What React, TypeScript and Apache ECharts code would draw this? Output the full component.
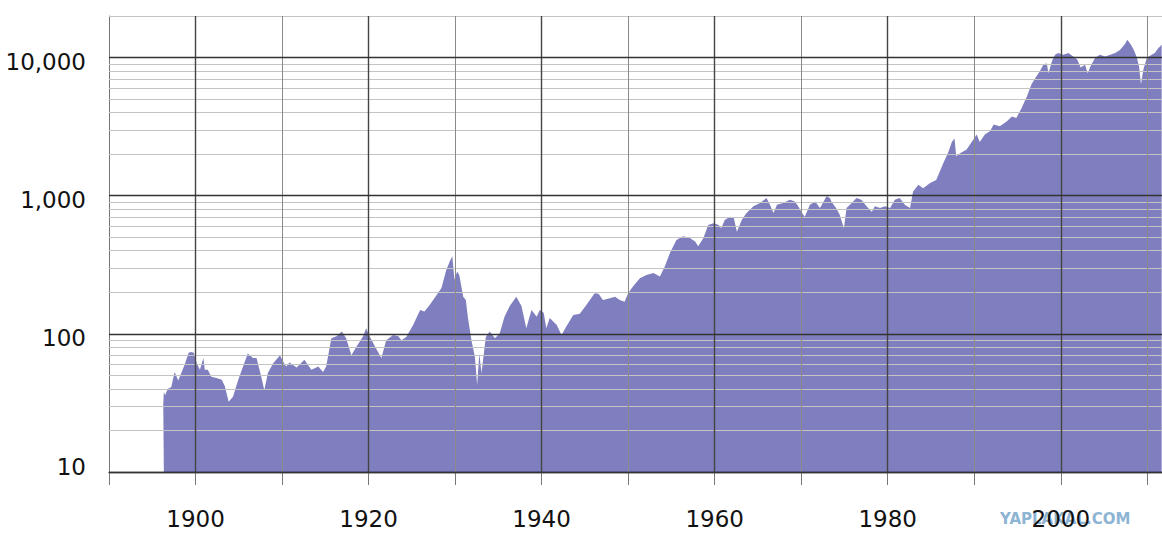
import React, { useEffect, useRef } from "react";
import * as echarts from "echarts";

const years: number[] = [
  1896.27, 1896.34, 1896.49, 1896.79, 1897.19, 1897.59, 1898.0, 1898.4, 1898.75, 1899.2,
  1899.5, 1899.8, 1900.11, 1900.51, 1900.91, 1901.07, 1901.42, 1901.82, 1902.42, 1903.03,
  1903.38, 1903.83, 1904.33, 1904.94, 1905.49, 1906.04, 1906.65, 1907.05, 1907.6, 1907.95,
  1908.36, 1908.96, 1909.76, 1910.12, 1910.47, 1910.87, 1911.68, 1912.58, 1913.39, 1914.19,
  1914.74, 1915.1, 1915.7, 1916.3, 1916.91, 1917.41, 1918.01, 1918.61, 1919.37, 1919.72,
  1920.12, 1920.93, 1921.48, 1922.04, 1922.84, 1923.44, 1923.8, 1924.35, 1925.15, 1925.96,
  1926.46, 1927.06, 1927.87, 1928.42, 1928.98, 1929.38, 1929.68, 1929.93, 1930.23, 1930.48,
  1930.94, 1931.24, 1931.49, 1931.89, 1932.29, 1932.55, 1932.8, 1933.05, 1933.55, 1934.0,
  1934.61, 1935.16, 1935.71, 1936.32, 1937.07, 1937.67, 1938.23, 1938.83, 1939.43, 1939.78,
  1940.24, 1940.54, 1940.94, 1941.75, 1942.3, 1942.85, 1943.66, 1944.41, 1945.17, 1946.13,
  1946.58, 1947.08, 1947.88, 1948.49, 1949.04, 1949.59, 1950.0, 1950.6, 1951.36, 1952.11,
  1952.92, 1953.67, 1954.22, 1954.83, 1955.58, 1956.34, 1957.14, 1957.74, 1958.1, 1958.7,
  1959.25, 1959.86, 1960.46, 1960.76, 1961.16, 1961.77, 1962.22, 1962.57, 1963.13, 1963.68,
  1964.48, 1965.24, 1965.99, 1966.39, 1966.8, 1967.2, 1967.9, 1968.71, 1969.26, 1969.66,
  1970.01, 1970.41, 1971.01, 1971.62, 1972.17, 1972.93, 1973.33, 1973.48, 1974.03, 1974.44,
  1974.94, 1975.24, 1975.64, 1976.4, 1976.95, 1977.55, 1978.16, 1978.51, 1979.11, 1979.67,
  1980.27, 1980.82, 1981.38, 1981.98, 1982.58, 1982.93, 1983.54, 1984.09, 1984.9, 1985.6,
  1986.41, 1987.01, 1987.41, 1987.72, 1987.92, 1988.37, 1989.12, 1989.88, 1990.28, 1990.63,
  1991.23, 1991.84, 1992.24, 1992.95, 1993.75, 1994.35, 1994.86, 1995.46, 1996.07, 1996.62,
  1997.17, 1997.58, 1997.98, 1998.38, 1998.58, 1998.99, 1999.34, 1999.69, 2000.29, 2000.89,
  2001.45, 2001.9, 2002.3, 2002.81, 2003.11, 2003.41, 2003.97, 2004.52, 2005.12, 2005.73,
  2006.28, 2006.84, 2007.44, 2007.69, 2008.04, 2008.45, 2008.8, 2009.05, 2009.27, 2009.55,
  2009.95, 2010.51, 2010.86, 2011.26, 2011.66,
];

const dowValues: number[] = [
  31, 38, 36, 40, 41, 53, 46, 53, 60, 73,
  74, 73, 62, 55, 67, 55, 55, 49, 48, 46.5,
  42, 32.3, 35, 46.5, 58, 72, 67, 67, 49, 39,
  52, 61, 70, 63, 58, 62, 57, 65, 55, 58,
  53, 58, 93, 96, 104, 93, 70, 81, 96, 110,
  96, 77, 67, 90, 98, 96, 90, 95, 116, 149,
  145, 162, 191, 215, 290, 334, 364, 246, 283, 267,
  186, 176, 130, 90, 68, 42.6, 72, 52, 95, 104,
  93, 101, 133, 159, 186, 159, 110, 149, 133, 149,
  142, 110, 130, 116, 98, 113, 137, 140, 162, 197,
  195, 176, 181, 186, 176, 171, 197, 222, 253, 267,
  276, 260, 306, 385, 479, 508, 494, 467, 430, 494,
  615, 632, 615, 582, 667, 705, 686, 549, 667, 750,
  838, 886, 962, 860, 750, 860, 886, 934, 908, 838,
  767, 705, 860, 908, 816, 990, 962, 908, 816, 730,
  582, 816, 860, 962, 934, 838, 767, 838, 816, 838,
  816, 934, 962, 860, 816, 1075, 1200, 1135, 1235, 1300,
  1710, 2070, 2450, 2600, 1930, 2030, 2160, 2540, 2770, 2450,
  2770, 2940, 3280, 3180, 3450, 3740, 3660, 4300, 5200, 6400,
  7300, 7950, 8880, 9100, 7700, 9450, 10490, 10800, 10490, 10800,
  10200, 9700, 8470, 8880, 7700, 8600, 9970, 10490, 10200, 10490,
  10800, 11340, 12600, 13460, 12600, 11340, 9970, 8600, 6400, 8200,
  9970, 10490, 10800, 11700, 12400,
];

const yMajorTicks: number[] = [10, 100, 1000, 10000];
const yMinorTicks: number[] = [
  20, 30, 40, 50, 60, 70, 80, 90,
  200, 300, 400, 500, 600, 700, 800, 900,
  2000, 3000, 4000, 5000, 6000, 7000, 8000, 9000, 20000,
];
const xMajorTicks: number[] = [1900, 1920, 1940, 1960, 1980, 2000];
const xMinorTicks: number[] = [1910, 1930, 1950, 1970, 1990, 2010];

const FONT = "DejaVu Sans";

export default function App() {
  const ref = useRef<HTMLDivElement>(null);

  useEffect(() => {
    if (!ref.current) return;
    const chart = echarts.init(ref.current, undefined, { renderer: "svg" });
    const seriesData = years.map((y, i) => [y, dowValues[i]]);

    const gridLines: any[] = [
      ...yMinorTicks.map((v) => ({ yAxis: v, lineStyle: { color: "#c4c4c4", width: 1, type: "solid" } })),
      ...xMinorTicks.map((v) => ({ xAxis: v, lineStyle: { color: "#8a8a8a", width: 1, type: "solid" } })),
      ...xMajorTicks.map((v) => ({ xAxis: v, lineStyle: { color: "#444", width: 1.4, type: "solid" } })),
      ...yMajorTicks.map((v) => ({ yAxis: v, lineStyle: { color: "#333", width: 1.4, type: "solid" } })),
    ];

    chart.setOption({
      animation: false,
      backgroundColor: "#ffffff",
      grid: { left: 109, right: 0, top: 16, bottom: 75, containLabel: false },
      xAxis: {
        type: "value",
        min: 1890,
        max: 2011.7,
        interval: 10,
        splitLine: { show: false },
        axisLine: { show: true, lineStyle: { color: "#444", width: 1.4 } },
        axisTick: { show: true, length: 13, lineStyle: { color: "#777", width: 1 } },
        axisLabel: {
          margin: 35,
          fontSize: 23,
          fontFamily: FONT,
          color: "#111",
          showMaxLabel: false,
          formatter: (v: number) => {
            const r = Math.round(v);
            return xMajorTicks.includes(r) && Math.abs(v - r) < 1e-6 ? String(r) : "";
          },
        },
      },
      yAxis: {
        type: "log",
        logBase: 10,
        min: 10,
        max: 20000,
        splitLine: { show: false },
        axisLine: { show: true, lineStyle: { color: "#777", width: 1 } },
        axisTick: { show: false },
        axisLabel: {
          margin: 23,
          fontSize: 23,
          fontFamily: FONT,
          color: "#111",
          formatter: (v: number) => {
            const r = Math.round(v);
            if (!yMajorTicks.includes(r)) return "";
            const s = r.toLocaleString("en-US");
            return r === 10 ? `{lo|${s}}` : `{hi|${s}}`;
          },
          rich: {
            hi: { fontSize: 23, fontFamily: FONT, color: "#111", padding: [9, 0, 0, 0] },
            lo: { fontSize: 23, fontFamily: FONT, color: "#111", padding: [0, 0, 11, 0] },
          },
        },
      },
      series: [
        {
          type: "line",
          name: "grid",
          z: 1,
          data: seriesData,
          showSymbol: false,
          silent: true,
          lineStyle: { opacity: 0, width: 0 },
          markLine: {
            silent: true,
            symbol: "none",
            animation: false,
            label: { show: false },
            emphasis: { disabled: true },
            data: gridLines,
          },
        },
        {
          type: "line",
          name: "DJIA",
          z: 2,
          data: seriesData,
          showSymbol: false,
          silent: true,
          lineStyle: { width: 0, opacity: 0 },
          areaStyle: { color: "#000080", opacity: 0.5, origin: "start" },
        },
      ],
      graphic: [
        {
          type: "text",
          left: 1000,
          top: 511,
          z: 0,
          style: {
            text: "YAPLAKAL.COM",
            font: `bold 15px "${FONT}"`,
            fill: "#8db4d3",
          },
        },
      ],
    });
    return () => chart.dispose();
  }, []);

  return (
    <div
      ref={ref}
      style={{ position: "absolute", left: 0, top: 0, width: 1162, height: 547 }}
    />
  );
}
